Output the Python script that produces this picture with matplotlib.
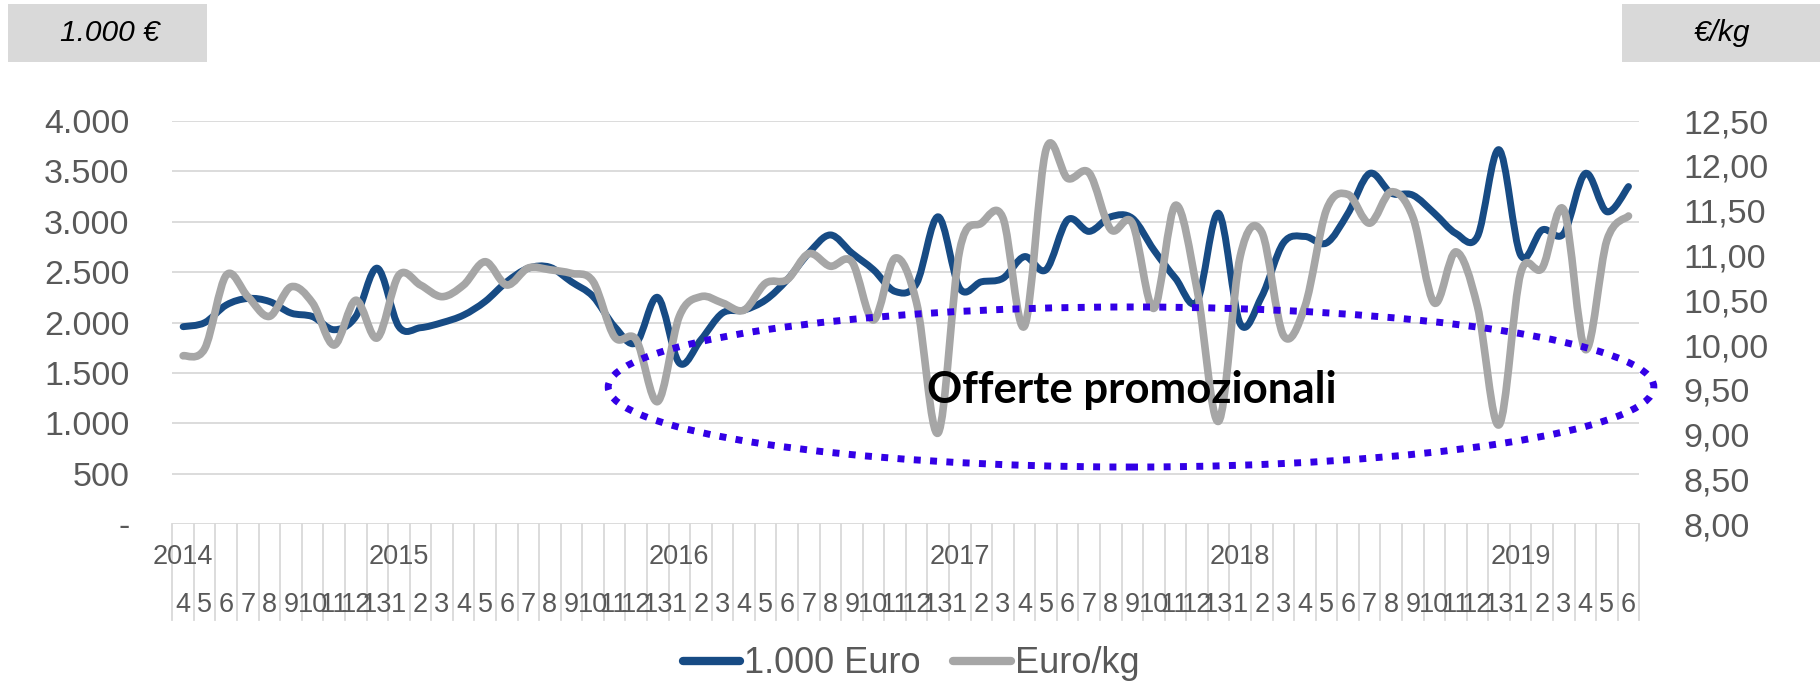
import numpy as np
import matplotlib
matplotlib.use("Agg")
import matplotlib.pyplot as plt
from matplotlib.path import Path
from matplotlib.patches import PathPatch, Ellipse, Rectangle
from matplotlib.lines import Line2D

plt.rcParams['font.family'] = ['Liberation Sans', 'DejaVu Sans']

# Dati: periodi (13 per anno), da 2014/4 a 2019/6
years = ['2014', '2015', '2016', '2017', '2018', '2019']
periods = ([p for p in range(4, 14)] + [p for p in range(1, 14)] * 4
           + [p for p in range(1, 7)])

euro_1000 = [1960, 2000, 2175, 2240, 2210, 2095, 2060, 1930, 2060, 2540,
             1960, 1950, 2000, 2075, 2210, 2405, 2540, 2550,
             2405, 2260, 1960, 1800, 2250, 1600, 1830, 2095, 2125, 2225,
             2425, 2690, 2870, 2690, 2525, 2310,
             2390, 3050, 2340, 2405, 2440, 2655, 2525, 3020, 2905, 3050,
             3035, 2720, 2440, 2210, 3085, 1990, 2260,
             2790, 2855, 2790, 3085, 3480, 3285, 3265, 3085, 2885, 2855,
             3715, 2670, 2920, 2885, 3480, 3100, 3350]

euro_kg = [9.88, 9.96, 10.78, 10.54, 10.32, 10.65, 10.47, 10.00, 10.50, 10.08,
           10.78, 10.67, 10.54, 10.67, 10.93, 10.67, 10.86, 10.84,
           10.80, 10.71, 10.09, 10.06, 9.37, 10.32, 10.54, 10.47, 10.39, 10.69,
           10.73, 11.02, 10.88, 10.93, 10.28, 10.97,
           10.47, 9.02, 11.06, 11.36, 11.42, 10.21, 12.18, 11.86, 11.92, 11.29,
           11.36, 10.41, 11.56, 10.62, 9.15, 10.99, 11.26,
           10.11, 10.43, 11.51, 11.68, 11.36, 11.71, 11.43, 10.47, 11.04, 10.43,
           9.11, 10.80, 10.86, 11.51, 9.95, 11.17, 11.44]

BLUE = '#174b84'
GREY = '#a6a6a6'
TXT = '#595959'
GRID = '#d9d9d9'


def smooth_path(xs, ys):
    # curva tipo "linea smussata" di Excel (Bezier Catmull-Rom)
    pts = np.column_stack([xs, ys]).astype(float)
    n = len(pts)
    verts = [pts[0]]
    codes = [Path.MOVETO]
    for i in range(n - 1):
        p0 = pts[i - 1] if i > 0 else pts[i]
        p1 = pts[i]
        p2 = pts[i + 1]
        p3 = pts[i + 2] if i + 2 < n else pts[i + 1]
        verts += [p1 + (p2 - p0) / 6, p2 - (p3 - p1) / 6, p2]
        codes += [Path.CURVE4] * 3
    return Path(verts, codes)


fig = plt.figure(figsize=(18.2, 6.81), dpi=100)
ax = fig.add_axes([0.0947, 0.2301, 0.806, 0.5922])
ax2 = ax.twinx()

x = np.arange(len(periods))
ax.set_xlim(-0.5, len(periods) - 0.5)
ax.set_ylim(0, 4000)
ax2.set_ylim(8, 12.5)

ax.set_yticks(np.arange(0, 4001, 500))
ax.set_yticklabels(['-' if v == 0 else f'{v:,.0f}'.replace(',', '.')
                    for v in np.arange(0, 4001, 500)])
ax2.set_yticks(np.arange(8, 12.51, 0.5))
ax2.set_yticklabels([f'{v:.2f}'.replace('.', ',') for v in np.arange(8, 12.51, 0.5)])
ax.tick_params(axis='y', length=0, labelsize=24.5, labelcolor=TXT, pad=31)
ax2.tick_params(axis='y', length=0, labelsize=24.5, labelcolor=TXT, pad=32)
ax.set_xticks([])
ax.grid(axis='y', color=GRID, lw=1.3)
ax.set_axisbelow(True)
for a in (ax, ax2):
    for s in a.spines.values():
        s.set_visible(False)

ax.add_patch(PathPatch(smooth_path(x, euro_1000), facecolor='none', edgecolor=BLUE,
                       lw=5, capstyle='round', joinstyle='round'))
ax2.add_patch(PathPatch(smooth_path(x, euro_kg), facecolor='none', edgecolor=GREY,
                        lw=5.5, capstyle='round', joinstyle='round'))

# asse categorie a due livelli
xt = ax.get_xaxis_transform()
for b in np.arange(-0.5, len(periods), 1.0):
    ax.plot([b, b], [0, -0.2373], transform=xt, color=GRID, lw=1.3, clip_on=False)
for i, p in enumerate(periods):
    ax.text(i, -0.2, str(p), transform=xt, ha='center', va='center',
            fontsize=19.5, color=TXT)
starts = [0] + [i for i in range(1, len(periods)) if periods[i] < periods[i - 1]]
for yr, s in zip(years, starts):
    ax.text(s, -0.0803, yr, transform=xt, ha='center', va='center',
            fontsize=19.5, color=TXT)

# ellisse "Offerte promozionali"
ax2.add_patch(Ellipse((43.94, 9.532), 48.47, 1.786, facecolor='none',
                      edgecolor='#3300e6', lw=5, linestyle=(0, (1, 1.35)),
                      clip_on=False, zorder=5))
ax2.text(43.97, 9.50, 'Offerte promozionali', ha='center', va='center',
         fontsize=31.5, fontweight='bold', family='Lato', color='black', zorder=6)

# riquadri unità
W, H = 1820, 681
fig.add_artist(Rectangle((8 / W, (H - 62) / H), 199 / W, 58 / H,
                         transform=fig.transFigure, color='#d9d9d9', lw=0))
fig.add_artist(Rectangle((1622 / W, (H - 62) / H), 198 / W, 58 / H,
                         transform=fig.transFigure, color='#d9d9d9', lw=0))
fig.text(110 / W, 1 - 33 / H, '1.000 €', ha='center', va='center',
         fontsize=21.5, style='italic', color='black')
fig.text(1722 / W, 1 - 33 / H, '€/kg', ha='center', va='center',
         fontsize=21.5, style='italic', color='black')

handles = [Line2D([], [], color=BLUE, lw=6, solid_capstyle='round'),
           Line2D([], [], color=GREY, lw=6, solid_capstyle='round')]
fig.legend(handles, ['1.000 Euro', 'Euro/kg'], loc='center',
           bbox_to_anchor=(0.5005, 0.025), ncol=2, frameon=False,
           fontsize=26, labelcolor=TXT, handlelength=1.6, handletextpad=0.1,
           columnspacing=0.9)

fig.savefig('out.png', dpi=100)
